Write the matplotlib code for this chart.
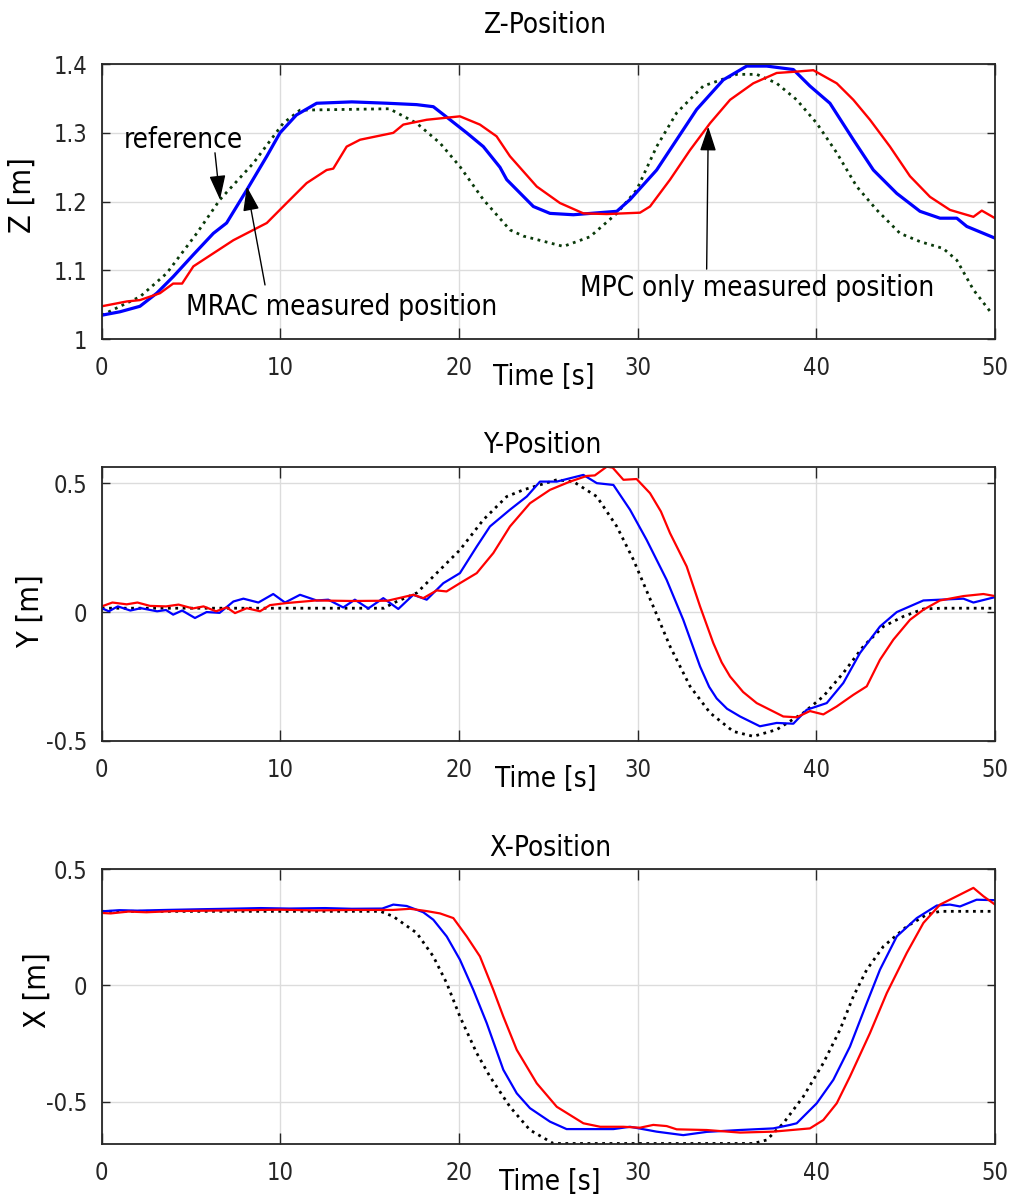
import matplotlib
matplotlib.use("Agg")
import matplotlib.pyplot as plt

# ---- Z position ----
z_ref_t = [0, 2.15, 3.64, 5.32, 6.62, 8.49, 10.16, 11.1, 16.1, 17.63, 18.94, 20.05, 21.36,
           22.85, 23.6, 25.84, 27.33, 28.83, 29.94, 31.06, 32.18, 33.67, 35.54, 36.66, 37.78,
           38.9, 40.02, 41.14, 42.26, 43.38, 44.68, 45.8, 47.1, 47.86, 48.79, 49.8]
z_ref = [1.035, 1.062, 1.096, 1.154, 1.203, 1.256, 1.314, 1.333, 1.335, 1.314, 1.285, 1.251, 1.203,
         1.159, 1.150, 1.135, 1.149, 1.183, 1.217, 1.28, 1.329, 1.368, 1.385, 1.385, 1.372,
         1.348, 1.314, 1.271, 1.222, 1.188, 1.154, 1.142, 1.132, 1.115, 1.072, 1.038]

z_mrac_t = [0, 1.02, 2.14, 3.08, 4.0, 5.13, 6.25, 6.99, 8.12, 9.24, 9.98, 10.9, 12.03, 14.0,
            16.0, 17.63, 18.56, 19.5, 20.43, 21.36, 22.29, 22.67, 24.16, 25.09, 26.4, 28.83,
            29.57, 31.06, 32.18, 33.3, 34.79, 36.1, 37.22, 38.71, 39.64, 40.76, 42.07, 43.19,
            44.5, 45.8, 46.92, 47.86, 48.42, 49.35, 50]
z_mrac = [1.035, 1.040, 1.048, 1.067, 1.091, 1.123, 1.154, 1.169, 1.217, 1.266, 1.300, 1.326,
          1.343, 1.345, 1.343, 1.341, 1.338, 1.319, 1.300, 1.280, 1.250, 1.232, 1.193, 1.183,
          1.181, 1.186, 1.203, 1.246, 1.290, 1.334, 1.377, 1.397, 1.397, 1.392, 1.368, 1.343,
          1.290, 1.246, 1.212, 1.186, 1.176, 1.176, 1.164, 1.154, 1.147]

z_mpc_t = [0, 1.4, 2.14, 3.26, 4.0, 4.5, 5.13, 6.25, 7.37, 8.49, 9.24, 10.35, 11.47, 12.59,
           12.96, 13.71, 14.46, 15.39, 16.32, 16.88, 18.19, 20.05, 21.17, 22.1, 22.85, 24.35,
           25.65, 26.96, 28.27, 30.13, 30.69, 31.81, 32.93, 34.05, 35.17, 36.47, 37.78, 38.9,
           39.83, 41.14, 42.07, 43.0, 44.12, 45.24, 46.36, 47.48, 48.79, 49.26, 50]
z_mpc = [1.048, 1.055, 1.057, 1.067, 1.081, 1.081, 1.106, 1.125, 1.144, 1.159, 1.169, 1.198,
         1.227, 1.246, 1.248, 1.280, 1.290, 1.295, 1.300, 1.312, 1.319, 1.324, 1.312, 1.295,
         1.266, 1.222, 1.198, 1.183, 1.182, 1.184, 1.193, 1.232, 1.275, 1.314, 1.348, 1.372,
         1.387, 1.389, 1.391, 1.372, 1.348, 1.319, 1.280, 1.237, 1.207, 1.188, 1.178, 1.187,
         1.176]

# ---- Y position ----
y_ref_t = [0, 15.8, 16.32, 17.63, 18.56, 20.05, 21.36, 22.67, 23.6, 25.47, 26.4, 27.71, 28.83,
           29.76, 30.87, 31.81, 32.93, 34.05, 35.35, 36.47, 37.78, 39.27, 40.39, 41.51, 42.63,
           43.75, 44.87, 45.99, 47.0, 50]
y_ref = [0.015, 0.015, 0.035, 0.074, 0.138, 0.241, 0.358, 0.448, 0.474, 0.513, 0.506, 0.448,
         0.332, 0.203, 0.022, -0.133, -0.288, -0.391, -0.463, -0.482, -0.456, -0.391, -0.327,
         -0.236, -0.133, -0.056, -0.017, 0.012, 0.015, 0.015]

y_mrac_t = [0, 0.4, 0.9, 1.6, 2.2, 3.1, 3.6, 4.0, 4.5, 5.22, 5.87, 6.6, 7.37, 7.93, 8.77, 9.6,
            10.26, 11.1, 12.03, 12.68, 13.52, 14.17, 14.92, 15.76, 16.6, 17.44, 18.19, 19.12,
            20.05, 20.99, 21.73, 22.85, 23.79, 24.53, 25.47, 26.21, 26.96, 27.71, 28.64, 29.57,
            30.5, 31.62, 32.55, 33.49, 34.0, 34.42, 35.0, 35.73, 36.84, 37.78, 38.71, 39.46,
            40.58, 41.51, 42.44, 43.56, 44.5, 45.99, 46.92, 48.23, 48.79, 50]
y_mrac = [0.015, 0.003, 0.022, 0.006, 0.015, 0.003, 0.008, -0.010, 0.006, -0.023, 0.0, -0.003,
          0.041, 0.052, 0.037, 0.070, 0.037, 0.067, 0.045, 0.048, 0.018, 0.048, 0.014, 0.054,
          0.012, 0.067, 0.048, 0.112, 0.151, 0.254, 0.332, 0.397, 0.448, 0.506, 0.506, 0.519,
          0.532, 0.500, 0.493, 0.397, 0.280, 0.125, -0.030, -0.211, -0.290, -0.335, -0.375,
          -0.405, -0.443, -0.430, -0.433, -0.379, -0.353, -0.275, -0.159, -0.056, 0.0, 0.045,
          0.048, 0.052, 0.037, 0.058]

y_mpc_t = [0, 0.6, 1.4, 2.0, 2.7, 3.6, 4.3, 5.1, 5.7, 6.4, 7.0, 7.46, 8.12, 8.86, 9.42, 10.35,
           12.0, 14.0, 16.0, 17.44, 18.0, 18.75, 19.3, 20.05, 20.99, 21.92, 22.85, 23.97, 25.09,
           26.21, 27.15, 27.6, 28.27, 28.6, 29.2, 29.94, 30.69, 31.3, 31.81, 32.74, 33.49, 34.23,
           34.7, 35.17, 35.9, 36.66, 38.15, 38.9, 39.64, 40.39, 41.14, 42.07, 42.82, 43.56, 44.31,
           45.24, 45.99, 46.92, 48.23, 49.35, 50]
y_mpc = [0.022, 0.037, 0.030, 0.037, 0.024, 0.022, 0.029, 0.014, 0.022, 0.003, 0.018, -0.004,
         0.015, 0.003, 0.027, 0.035, 0.045, 0.043, 0.044, 0.067, 0.054, 0.084, 0.080, 0.112,
         0.151, 0.229, 0.332, 0.422, 0.474, 0.506, 0.528, 0.530, 0.564, 0.560, 0.513, 0.516,
         0.461, 0.390, 0.306, 0.177, 0.022, -0.120, -0.195, -0.250, -0.310, -0.353, -0.405,
         -0.408, -0.384, -0.397, -0.366, -0.321, -0.288, -0.185, -0.107, -0.030, 0.009, 0.045,
         0.062, 0.070, 0.062]

# ---- X position ----
x_ref_t = [0, 15.6, 16.32, 17.63, 18.56, 19.31, 20.05, 20.99, 21.73, 22.85, 23.97, 25.28,
           36.47, 37.22, 38.15, 39.27, 40.39, 41.32, 42.07, 42.82, 43.75, 45.06, 46.18, 46.92, 50]
x_ref = [0.319, 0.319, 0.297, 0.226, 0.125, 0.010, -0.134, -0.291, -0.392, -0.522, -0.622,
         -0.680, -0.680, -0.665, -0.593, -0.478, -0.334, -0.191, -0.047, 0.068, 0.168, 0.254,
         0.305, 0.319, 0.319]

x_mrac_t = [0, 1.0, 2.0, 3.6, 5.5, 7.0, 8.9, 10.5, 12.5, 14.0, 15.7, 16.32, 17.07, 18.0, 18.56,
            19.31, 20.05, 20.8, 21.55, 22.48, 23.23, 23.97, 25.09, 26.02, 27.34, 28.64, 29.57,
            31.06, 32.55, 33.86, 35.7, 37.59, 38.53, 38.9, 40.02, 40.95, 41.88, 42.82, 43.56,
            44.5, 45.62, 46.74, 47.48, 48.04, 48.97, 50]
x_mrac = [0.319, 0.324, 0.322, 0.325, 0.328, 0.330, 0.333, 0.331, 0.333, 0.330, 0.331, 0.348,
          0.342, 0.315, 0.283, 0.211, 0.111, -0.019, -0.162, -0.363, -0.464, -0.528, -0.586,
          -0.618, -0.618, -0.618, -0.608, -0.629, -0.644, -0.630, -0.622, -0.615, -0.600,
          -0.593, -0.507, -0.406, -0.263, -0.076, 0.068, 0.211, 0.290, 0.344, 0.348, 0.340,
          0.369, 0.367]

x_mpc_t = [0, 0.5, 1.5, 2.5, 4.0, 6.0, 8.0, 10.0, 12.0, 14.0, 16.3, 17.26, 18.19, 18.94, 19.68,
           20.43, 21.17, 21.92, 22.48, 23.23, 24.35, 25.47, 26.96, 27.9, 29.2, 30.13, 30.87,
           31.62, 32.18, 33.86, 35.73, 37.59, 39.64, 40.39, 41.14, 41.88, 43.0, 43.94, 45.06,
           45.99, 46.92, 47.86, 48.79, 49.35, 50]
x_mpc = [0.312, 0.310, 0.318, 0.315, 0.320, 0.322, 0.324, 0.326, 0.323, 0.325, 0.325, 0.330,
         0.320, 0.310, 0.290, 0.211, 0.125, -0.019, -0.134, -0.277, -0.421, -0.522, -0.593,
         -0.608, -0.608, -0.612, -0.600, -0.605, -0.619, -0.622, -0.633, -0.629, -0.615,
         -0.579, -0.507, -0.392, -0.205, -0.033, 0.140, 0.269, 0.348, 0.384, 0.420, 0.384,
         0.348]

ref_dark = '#0a3a0a'
spine_col = '#262626'
plt.rcParams['font.family'] = 'DejaVu Sans'
plt.rcParams['font.stretch'] = 'condensed'

fig = plt.figure(figsize=(10.11, 11.99), dpi=100)
ax_z = fig.add_axes([0.1006, 0.717, 0.8836, 0.2296])
ax_y = fig.add_axes([0.1006, 0.382, 0.8836, 0.2288])
ax_x = fig.add_axes([0.1006, 0.0459, 0.8836, 0.2291])

TXT = 20


def style_axis(ax, ylim, yticks, yticklabels, title, title_pos, ylabel, ylabel_pos, xlabel_x):
    ax.set_xlim(0, 50)
    ax.set_ylim(*ylim)
    ax.set_xticks([0, 10, 20, 30, 40, 50])
    ax.set_xticklabels(['0', '10', '20', '30', '40', '50'])
    ax.set_yticks(yticks)
    ax.set_yticklabels(yticklabels)
    ax.grid(True, color='#dcdcdc', lw=1.0)
    ax.set_axisbelow(True)
    for s in ax.spines.values():
        s.set_color(spine_col)
        s.set_linewidth(1.3)
    ax.tick_params(axis='x', direction='in', length=8, width=1.0, pad=12,
                   labelsize=17, colors=spine_col, top=True)
    ax.tick_params(axis='y', direction='in', length=6, width=1.0, pad=10.5,
                   labelsize=17, colors=spine_col, right=True)
    ax.text(title_pos[0], title_pos[1], title, transform=ax.transAxes, ha='center',
            va='center', fontsize=TXT, color='black')
    ax.set_ylabel(ylabel, fontsize=22, color='black')
    ax.yaxis.set_label_coords(*ylabel_pos)
    ax.set_xlabel('Time [s]', fontsize=TXT, color='black')
    ax.xaxis.set_label_coords(xlabel_x, -0.138)
    ax.xaxis.label.set_va('center')
    ax.yaxis.label.set_va('center')


# Z
ax_z.plot(z_ref_t, z_ref, ':', color=ref_dark, lw=2)
ax_z.plot(z_mrac_t, z_mrac, '-', color='#0000ff', lw=2.3)
ax_z.plot(z_mpc_t, z_mpc, '-', color='#ff0000', lw=1.7)
style_axis(ax_z, (1.0, 1.4), [1.0, 1.1, 1.2, 1.3, 1.4], ['1', '1.1', '1.2', '1.3', '1.4'],
           'Z-Position', (0.497, 1.14), 'Z [m]', (-0.089, 0.524), 0.495)

arrow = dict(arrowstyle='-|>,head_length=0.75,head_width=0.25', color='black', lw=1.0,
             shrinkA=0, shrinkB=0, mutation_scale=20)
ax_z.text(4.58, 1.29, 'reference', fontsize=TXT, ha='center', va='center')
ax_z.annotate('', xy=(6.62, 1.203), xytext=(6.34, 1.271), arrowprops=arrow)
ax_z.text(13.42, 1.047, 'MRAC measured position', fontsize=TXT, ha='center', va='center')
ax_z.annotate('', xy=(8.12, 1.222), xytext=(9.14, 1.079), arrowprops=arrow)
ax_z.text(36.66, 1.0746, 'MPC only measured position', fontsize=TXT, ha='center', va='center')
ax_z.annotate('', xy=(33.95, 1.309), xytext=(33.86, 1.102), arrowprops=arrow)

# Y
ax_y.plot(y_ref_t, y_ref, ':', color='black', lw=2)
ax_y.plot(y_mrac_t, y_mrac, '-', color='#0000ff', lw=1.6)
ax_y.plot(y_mpc_t, y_mpc, '-', color='#ff0000', lw=1.6)
style_axis(ax_y, (-0.5, 0.564), [-0.5, 0, 0.5], ['-0.5', '0', '0.5'],
           'Y-Position', (0.493, 1.079), 'Y [m]', (-0.080, 0.474), 0.497)

# X
ax_x.plot(x_ref_t, x_ref, ':', color='black', lw=2)
ax_x.plot(x_mrac_t, x_mrac, '-', color='#0000ff', lw=1.6)
ax_x.plot(x_mpc_t, x_mpc, '-', color='#ff0000', lw=1.6)
style_axis(ax_x, (-0.682, 0.5), [-0.5, 0, 0.5], ['-0.5', '0', '0.5'],
           'X-Position', (0.502, 1.078), 'X [m]', (-0.072, 0.56), 0.501)

fig.savefig('out.png', dpi=100)
